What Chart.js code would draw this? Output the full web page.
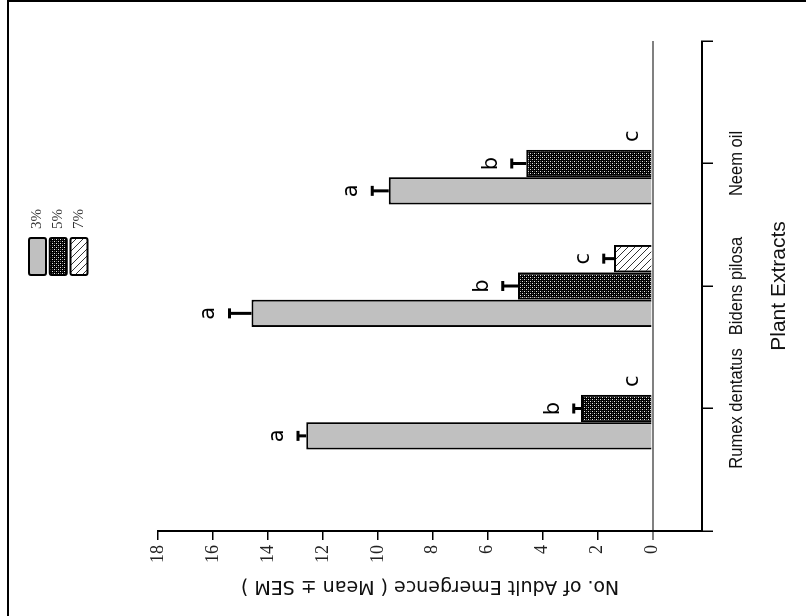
<!DOCTYPE html>
<html>
<head>
<meta charset="utf-8">
<script src="https://cdn.jsdelivr.net/npm/chart.js@4.4.0/dist/chart.umd.min.js"></script>
<style>
  html, body { margin: 0; padding: 0; width: 806px; height: 616px; overflow: hidden; background: #fff; }
  /* chart is drawn upright, then turned a quarter turn counter-clockwise like the figure */
  #wrap { position: absolute; left: 95px; top: -95px; width: 616px; height: 806px; transform: rotate(-90deg); }
  .frame-l { position: absolute; left: 7px; top: 0; width: 2px; height: 616px; background: #000; }
  .frame-t { position: absolute; left: 7px; top: 0; width: 799px; height: 2px; background: #000; }
</style>
</head>
<body>
<div id="wrap"><canvas id="c" width="616" height="806"></canvas></div>
<div class="frame-l"></div>
<div class="frame-t"></div>
<script>
// --- DATA ---
const categories = ['Rumex dentatus', 'Bidens pilosa', 'Neem oil'];
const concentrations = ['3%', '5%', '7%'];
const mean3 = [12.6, 14.6, 9.6];
const mean5 = [2.6, 4.9, 4.6];
const mean7 = [0, 1.4, 0];
const sem3 = [0.3, 0.8, 0.6];
const sem5 = [0.27, 0.55, 0.52];
const sem7 = [0, 0.38, 0];
const letters3 = ['a', 'a', 'a'];
const letters5 = ['b', 'b', 'b'];
const letters7 = ['c', 'c', 'c'];
const yMin = -1.8, yMax = 18, yStep = 2;

// empty slots at both ends of the extract axis
const pad = arr => [null, ...arr, null];

const sans = '"DejaVu Sans", sans-serif';
const arial = '"Liberation Sans", Arial, sans-serif';
const serif = '"Liberation Serif", serif';

const canvas = document.getElementById('c');
const ctx = canvas.getContext('2d');

// --- FILL PATTERNS ---
const dotTile = document.createElement('canvas');
dotTile.width = 4; dotTile.height = 4;
const dt = dotTile.getContext('2d');
dt.fillStyle = '#000'; dt.fillRect(0, 0, 4, 4);
dt.fillStyle = '#e6e6e6'; dt.fillRect(0, 0, 1, 1); dt.fillRect(2, 2, 1, 1);
dt.fillStyle = '#5a5a5a'; dt.fillRect(2, 0, 1, 1); dt.fillRect(0, 2, 1, 1);
const dotPattern = ctx.createPattern(dotTile, 'repeat');

const hatchTile = document.createElement('canvas');
hatchTile.width = 7; hatchTile.height = 7;
const ht = hatchTile.getContext('2d');
ht.fillStyle = '#fff'; ht.fillRect(0, 0, 7, 7);
ht.strokeStyle = '#333'; ht.lineWidth = 1;
ht.beginPath();
[-7, 0, 7].forEach(k => { ht.moveTo(k, 0); ht.lineTo(k + 7, 7); });
ht.stroke();
const hatchPattern = ctx.createPattern(hatchTile, 'repeat');

const datasets = [
  { label: concentrations[0], data: pad(mean3), sem: pad(sem3), letters: pad(letters3), backgroundColor: '#c0c0c0' },
  { label: concentrations[1], data: pad(mean5), sem: pad(sem5), letters: pad(letters5), backgroundColor: dotPattern },
  { label: concentrations[2], data: pad(mean7), sem: pad(sem7), letters: pad(letters7), backgroundColor: hatchPattern }
].map(ds => Object.assign(ds, {
  borderColor: '#000', borderWidth: 2, borderSkipped: 'start',
  categoryPercentage: 0.67, barPercentage: 1
}));

// error bars, significance letters, condensed extract names and the legend
const extras = {
  id: 'extras',
  afterDatasetsDraw(chart) {
    const c = chart.ctx, x = chart.scales.x, y = chart.scales.y;
    c.save();
    chart.data.datasets.forEach((ds, i) => {
      chart.getDatasetMeta(i).data.forEach((bar, j) => {
        const v = ds.data[j];
        if (v == null) return;
        const top = y.getPixelForValue(v + ds.sem[j]);
        if (ds.sem[j] > 0) {
          c.strokeStyle = '#000'; c.lineWidth = 3;
          c.beginPath();
          c.moveTo(bar.x, bar.y); c.lineTo(bar.x, top);
          c.moveTo(bar.x - 5, top); c.lineTo(bar.x + 5, top);
          c.stroke();
        }
        c.fillStyle = '#000';
        c.font = '21px ' + sans;
        c.textAlign = 'center'; c.textBaseline = 'alphabetic';
        c.fillText(ds.letters[j], bar.x, top - 15);
      });
    });

    // extract names under the axis, in a narrow face
    c.fillStyle = '#111';
    c.font = '19px ' + arial;
    c.textAlign = 'center'; c.textBaseline = 'middle';
    chart.data.labels.forEach((lab, i) => {
      if (!lab) return;
      c.save();
      c.translate(x.getPixelForValue(i), x.top + 35);
      c.scale(0.87, 1);
      c.fillText(lab, 0, 0);
      c.restore();
    });

    // legend
    const lx = 341, ly = 29, bw = 37, bh = 17, step = 20.7;
    chart.data.datasets.forEach((ds, i) => {
      const yy = ly + i * step;
      c.fillStyle = ds.backgroundColor;
      c.beginPath(); c.roundRect(lx, yy, bw, bh, 2); c.fill();
      c.lineWidth = 2; c.strokeStyle = '#000'; c.stroke();
      c.fillStyle = '#333';
      c.font = '15px ' + serif;
      c.textAlign = 'left'; c.textBaseline = 'middle';
      c.fillText(ds.label, lx + bw + 9, yy + bh / 2);
    });
    c.restore();
  }
};

new Chart(ctx, {
  type: 'bar',
  data: { labels: ['', ...categories, ''], datasets },
  options: {
    responsive: false, animation: false, devicePixelRatio: 1,
    layout: { padding: { top: 158, right: 41, left: 0, bottom: 0 } },
    plugins: { legend: { display: false }, tooltip: { enabled: false } },
    scales: {
      x: {
        type: 'category', offset: false,
        grid: { offset: false, drawOnChartArea: false, color: '#000', lineWidth: 1.5, tickLength: 11 },
        border: { color: '#000', width: 2 },
        ticks: { display: false },
        title: { display: true, text: 'Plant Extracts', color: '#111', font: { family: arial, size: 21 }, padding: { top: 0, bottom: 14 } },
        afterFit: s => { s.height = 104; }
      },
      y: {
        min: yMin, max: yMax,
        ticks: { stepSize: yStep, padding: 5, color: '#222', font: { family: serif, size: 18 } },
        afterBuildTicks: s => { s.ticks = s.ticks.filter(t => t.value >= 0); },
        grid: {
          color: c => c.tick && c.tick.value === 0 ? '#808080' : 'rgba(0,0,0,0)',
          tickColor: c => c.tick && c.tick.value === 0 ? '#808080' : '#000',
          lineWidth: c => c.tick && c.tick.value === 0 ? 2 : 1.5,
          tickLength: 9
        },
        border: { color: '#000', width: 2 },
        title: { display: true, text: 'No. of Adult Emergence ( Mean ± SEM )', color: '#111', font: { family: sans, size: 19 }, padding: { top: 19, bottom: 0 } },
        afterFit: s => { s.width = 85; }
      }
    }
  },
  plugins: [extras]
});
</script>
</body>
</html>
